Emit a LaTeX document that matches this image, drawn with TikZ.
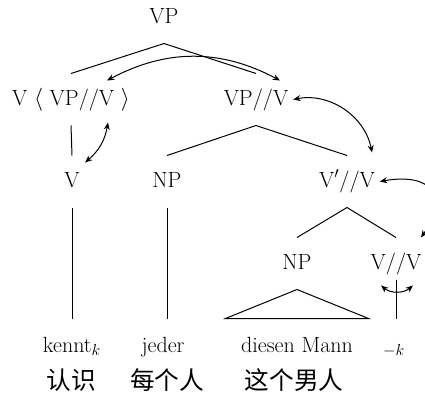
\documentclass[tikz,border=0pt]{standalone}
\usepackage{fontspec}
\newfontfamily\cjk{Noto Sans CJK SC}
\usetikzlibrary{arrows.meta,calc}

\tikzset{every picture/.style={line width=0.75pt}}
\tikzset{
  tnode/.style={anchor=base,inner ysep=0pt,text height=23.25pt,text depth=15pt,font=\fontsize{16.5}{20}\selectfont},
  leaf/.style={anchor=base,inner ysep=0pt,text height=24.75pt,text depth=0pt,font=\fontsize{16.5}{20}\selectfont},
  gloss/.style={inner sep=0pt,font=\cjk\fontsize{18.5}{22}\selectfont},
  move/.style={{Stealth[length=5.5pt,width=4.5pt]}-{Stealth[length=5.5pt,width=4.5pt]}}
}

\begin{document}
\begin{tikzpicture}[x=0.75pt,y=0.75pt,yscale=-1,xscale=1]
        \useasboundingbox (0,0) rectangle (425,397);

        % tree nodes
        \node[tnode] (vp) at (164,23) {VP};
        \node[tnode] (vcomp) at (71,105) {V $\langle$ VP//V $\rangle$};
        \node[tnode] (vpv) at (256,105) {VP//V};
        \node[tnode] (v) at (72,187) {V};
        \node[tnode] (np1) at (167,187) {NP};
        \node[tnode] (vbar) at (347,187) {V$'$//V};
        \node[tnode] (np2) at (297,269) {NP};
        \node[tnode] (vv) at (396,269) {V//V};

        % words and glosses
        \node[leaf] (kennt) at (72,352) {kennt$_k$};
        \node[leaf] (jeder) at (163,352) {jeder};
        \node[leaf,minimum width=106.5pt] (dm) at (297,352) {diesen Mann};
        \node[leaf] (trace) at (394,352) {$_{-k}$};
        \node[gloss] (g1) at (71,380) {认识};
        \node[gloss] (g2) at (167,380) {每个人};
        \node[gloss] (g3) at (294,380) {这个男人};

        % branches
        \draw (vcomp.north) -- (vp.south) -- (vpv.north);
        \draw (vcomp.south) -- (v.north);
        \draw (np1.north) -- (vpv.south) -- (vbar.north);
        \draw (np2.north) -- (vbar.south) -- (vv.north);
        \draw (v.south) -- (v.south |- kennt.north);
        \draw (np1.south) -- (np1.south |- jeder.north);
        \draw (np2.south) -- (dm.north west) -- (dm.north east) -- cycle;
        \draw[shorten <=-7.5pt] (vv.south) -- (vv.south |- trace.north);

        % movement arrows (yscale=-1 flips the bends)
        \draw[move] ($(vcomp.north)+(36,7)$) to[bend right=28] ($(vpv.north)+(24,7)$);
        \draw[move] ($(v.north)+(13,7)$) to[bend left=20] ($(vcomp.south)+(37,-3)$);
        \draw[move] (vpv.east) to[bend right=45] ($(vbar.north)+(25,-3)$);
        \draw[move] (vbar.east) to[out=-10,in=-55,looseness=1.9] ($(vv.north)+(25,0)$);
        \draw[move] ($(vv.south)+(-15,-4)$) to[bend left=40] ($(vv.south)+(17,-4)$);
\end{tikzpicture}
\end{document}
